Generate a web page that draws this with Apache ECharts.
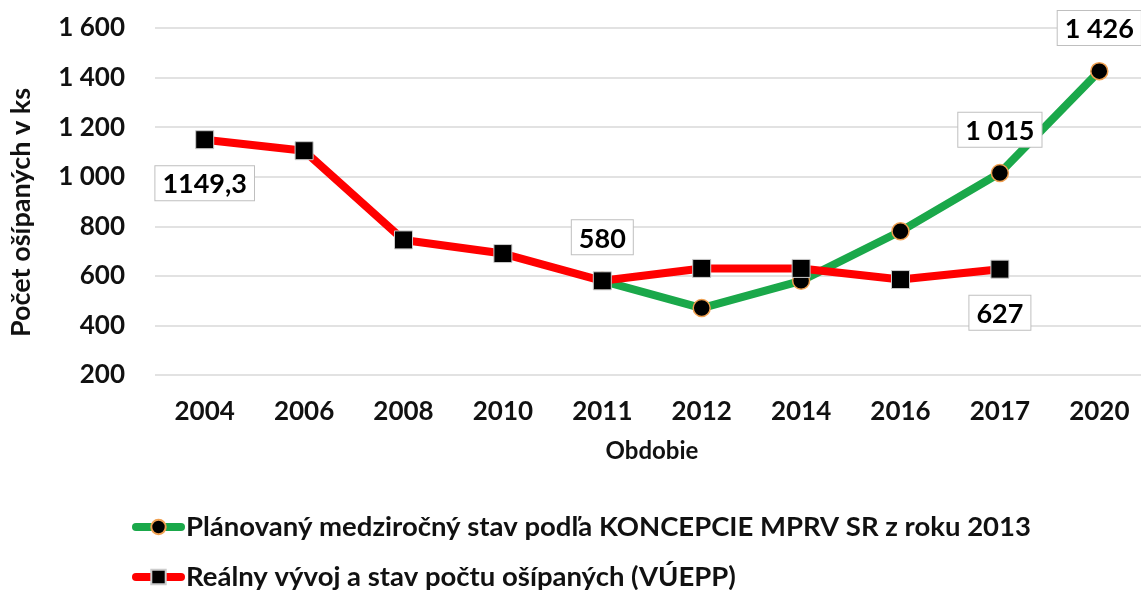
<!DOCTYPE html>
<html><head><meta charset="utf-8">
<script src="https://cdn.jsdelivr.net/npm/echarts@6/dist/echarts.min.js"></script>
<style>html,body{margin:0;padding:0;background:#fff;overflow:hidden;width:1141px;height:590px}#c{width:1150px;height:590px}</style>
</head><body><div id="c"></div>
<script>
var categories = ['2004','2006','2008','2010','2011','2012','2014','2016','2017','2020'];
var planned = [null,null,null,null,580,470,580,780,1015,1426];
var real = [1149.3,1105,745,690,580,630,630,585,627,null];
var plannedLabels = {8:'top', 9:'top'};
var realLabels = {0:'bottom', 4:'top', 8:'bottom'};
var yTicks = {min:200, max:1600, interval:200};
var names = ['Plánovaný medziročný stav podľa KONCEPCIE MPRV SR z roku 2013','Reálny vývoj a stav počtu ošípaných (VÚEPP)'];

var FONT = 'Lato, "Open Sans", sans-serif';
function fmt(v){
  if (Math.round(v) !== v) return String(v).replace('.', ',');
  return String(v).replace(/\B(?=(\d{3})+(?!\d))/g, ' ');
}
var labelBox = {show:true, fontFamily:FONT, fontWeight:'bold', fontSize:27, color:'#000',
  backgroundColor:'#fff', borderColor:'#bfbfbf', borderWidth:1, padding:[5,7,2,7], distance:17,
  formatter:function(p){return fmt(p.value);}};
function build(arr, map){
  return arr.map(function(v,i){
    if (map[i]) return {value:v, label:Object.assign({}, labelBox, {position:map[i]})};
    return v;
  });
}
var legendText = {fontFamily:FONT, fontWeight:'bold', fontSize:27.5, color:'#111'};
var chart = echarts.init(document.getElementById('c'));
chart.setOption({
  animation:false,
  grid:{left:154, right:1, top:28, bottom:215},
  xAxis:{type:'category', data:categories, boundaryGap:true,
    axisLine:{show:false}, axisTick:{show:false},
    axisLabel:{fontFamily:FONT, fontWeight:'bold', fontSize:26, color:'#111', margin:24},
    name:'Obdobie', nameLocation:'middle', nameGap:64,
    nameTextStyle:{fontFamily:FONT, fontWeight:'bold', fontSize:24, color:'#111'}},
  yAxis:{type:'value', min:yTicks.min, max:yTicks.max, interval:yTicks.interval,
    axisLine:{show:false}, axisTick:{show:false},
    axisLabel:{fontFamily:FONT, fontWeight:'bold', fontSize:26, color:'#111', margin:30,
      formatter:function(v){return fmt(v);}},
    splitLine:{lineStyle:{color:'#d9d9d9', width:1.5}},
    name:'Počet ošípaných v ks', nameLocation:'middle', nameGap:120,
    nameTextStyle:{fontFamily:FONT, fontWeight:'bold', fontSize:27, color:'#111', padding:[0,22,0,0]}},
  legend:[
    {data:[names[0]], left:132, top:513, itemWidth:45, itemHeight:18, padding:0,
      lineStyle:{width:8, cap:'round'}, textStyle:legendText},
    {data:[names[1]], left:132, top:563, itemWidth:45, itemHeight:18, padding:0,
      lineStyle:{width:8, cap:'round'}, textStyle:legendText}
  ],
  series:[
    {name:names[0], type:'line', data:build(planned, plannedLabels), connectNulls:false,
      lineStyle:{color:'#1aa84a', width:8}, itemStyle:{color:'#000', borderColor:'#f0a050', borderWidth:1.5},
      symbol:'circle', symbolSize:17, label:{show:false}},
    {name:names[1], type:'line', data:build(real, realLabels),
      lineStyle:{color:'#ff0000', width:8}, itemStyle:{color:'#000', borderColor:'#cccccc', borderWidth:1},
      symbol:'rect', symbolSize:18, label:{show:false}}
  ]
});
</script></body></html>
